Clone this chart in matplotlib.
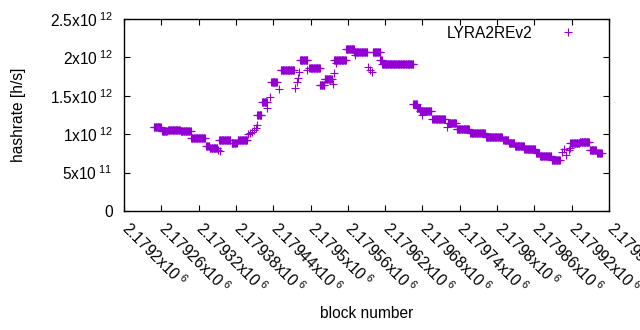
import numpy as np
import matplotlib
matplotlib.use("Agg")
import matplotlib.pyplot as plt
from matplotlib.transforms import ScaledTranslation

plt.rcParams['font.family'] = ['Liberation Sans', 'DejaVu Sans']
plt.rcParams['mathtext.fontset'] = 'custom'
plt.rcParams['mathtext.rm'] = 'Liberation Sans'
plt.rcParams['mathtext.it'] = 'Liberation Sans'

# Runs of blocks sharing a hashrate value (first block, last block, hashrate in 1e12 h/s)
run_first = [2179248, 2179261, 2179271, 2179291, 2179308, 2179332, 2179338, 2179351, 2179355,
             2179353, 2179373, 2179383, 2179399, 2179403, 2179406, 2179409, 2179412, 2179414,
             2179414, 2179422, 2179430, 2179435, 2179437, 2179449, 2179452, 2179475, 2179478,
             2179480, 2179482, 2179483, 2179495, 2179498, 2179515, 2179523, 2179536, 2179538,
             2179538, 2179541, 2179557, 2179570, 2179572, 2179592, 2179595, 2179599, 2179600,
             2179612, 2179615, 2179665, 2179671, 2179676, 2179679, 2179696, 2179719, 2179721,
             2179735, 2179757, 2179782, 2179810, 2179819, 2179829, 2179844, 2179863, 2179869,
             2179888, 2179905, 2179908, 2179911, 2179915, 2179918, 2179918, 2179933, 2179949,
             2179961]
run_last = [2179259, 2179269, 2179290, 2179307, 2179330, 2179337, 2179350, 2179351, 2179355,
            2179371, 2179381, 2179398, 2179399, 2179403, 2179406, 2179409, 2179412, 2179414,
            2179421, 2179430, 2179430, 2179435, 2179446, 2179449, 2179473, 2179475, 2179478,
            2179480, 2179482, 2179495, 2179495, 2179515, 2179522, 2179534, 2179536, 2179538,
            2179557, 2179541, 2179570, 2179591, 2179572, 2179592, 2179595, 2179599, 2179612,
            2179615, 2179665, 2179671, 2179676, 2179694, 2179679, 2179716, 2179719, 2179734,
            2179755, 2179780, 2179808, 2179818, 2179828, 2179843, 2179861, 2179868, 2179887,
            2179901, 2179905, 2179908, 2179911, 2179915, 2179918, 2179932, 2179948, 2179959,
            2179968]
run_value = [1.090, 1.040, 1.061, 1.048, 0.957, 0.846, 0.814, 0.794, 0.780,
             0.918, 0.885, 0.924, 1.003, 1.016, 1.035, 1.055, 1.081, 1.120,
             1.256, 1.413, 1.341, 1.484, 1.680, 1.588, 1.842, 1.601, 1.680,
             1.732, 1.810, 1.960, 1.836, 1.868, 1.641, 1.725, 1.654, 1.797,
             1.966, 1.930, 2.103, 2.064, 2.030, 1.875, 1.836, 1.810, 2.064,
             1.966, 1.920, 1.387, 1.335, 1.302, 1.250, 1.204, 1.094, 1.152,
             1.074, 1.016, 0.970, 0.918, 0.885, 0.840, 0.801, 0.755, 0.710,
             0.658, 0.768, 0.807, 0.729, 0.794, 0.820, 0.879, 0.892, 0.800,
             0.750]

series_name = "LYRA2REv2"
x_ticks = [2179200, 2179260, 2179320, 2179380, 2179440, 2179500, 2179560,
           2179620, 2179680, 2179740, 2179800, 2179860, 2179920, 2179980]
x_tick_labels = ["2.1792", "2.17926", "2.17932", "2.17938", "2.17944", "2.1795", "2.17956",
                 "2.17962", "2.17968", "2.17974", "2.1798", "2.17986", "2.17992", "2.17998"]
y_ticks = [0, 0.5e12, 1.0e12, 1.5e12, 2.0e12, 2.5e12]
y_tick_labels = ["0", "5x10", "1x10", "1.5x10", "2x10", "2.5x10"]
y_tick_exps = ["", "11", "12", "12", "12", "12"]

blocks = []
values = []
for a, b, v in zip(run_first, run_last, run_value):
    for blk in range(a, b + 1):
        blocks.append(blk)
        values.append(v * 1e12)

FS = 11.2
fig = plt.figure(figsize=(6.4, 3.3), dpi=100)
ax = fig.add_axes([124 / 640, 1 - 211 / 330, (609 - 124) / 640, (211 - 19) / 330])

ax.plot(blocks, values, linestyle='none', marker='+', markersize=5.2,
        markeredgewidth=0.8, color='#9400D3', label=series_name)

ax.set_xlim(2179200, 2179980)
ax.set_ylim(0, 2.5e12)

ax.set_xticks(x_ticks)
ax.set_xticklabels([r'$\mathregular{%sx10^{\ 6}}$' % t for t in x_tick_labels],
                   rotation=-45, ha='left', va='baseline', rotation_mode='anchor')
ax.set_yticks(y_ticks)
ylabs = []
for t, e in zip(y_tick_labels, y_tick_exps):
    if e:
        ylabs.append(r'$\mathregular{%s^{\ %s}}$' % (t, e))
    else:
        ylabs.append(t)
ax.set_yticklabels(ylabs)

ax.tick_params(axis='both', direction='in', length=4, width=0.8, labelsize=FS,
               top=True, right=True, color='black')
ax.tick_params(axis='x', pad=13.5)
ax.tick_params(axis='y', pad=8)
for s in ax.spines.values():
    s.set_linewidth(1.0)

shift = ScaledTranslation(-4 / 100, 0, fig.dpi_scale_trans)
for lab in ax.get_xticklabels():
    lab.set_transform(lab.get_transform() + shift)

ax.set_ylabel('hashrate [h/s]', fontsize=FS)
ax.yaxis.set_label_coords(-0.202, 0.5)
ax.set_xlabel('block number', fontsize=FS)
ax.xaxis.set_label_coords(0.5, -0.495)

ax.legend(loc='upper right', bbox_to_anchor=(0.932, 0.965), markerfirst=False, frameon=False,
          numpoints=1, handlelength=1.0, handletextpad=1.77, borderaxespad=0, borderpad=0,
          fontsize=FS)

fig.savefig('out.png', dpi=100)
